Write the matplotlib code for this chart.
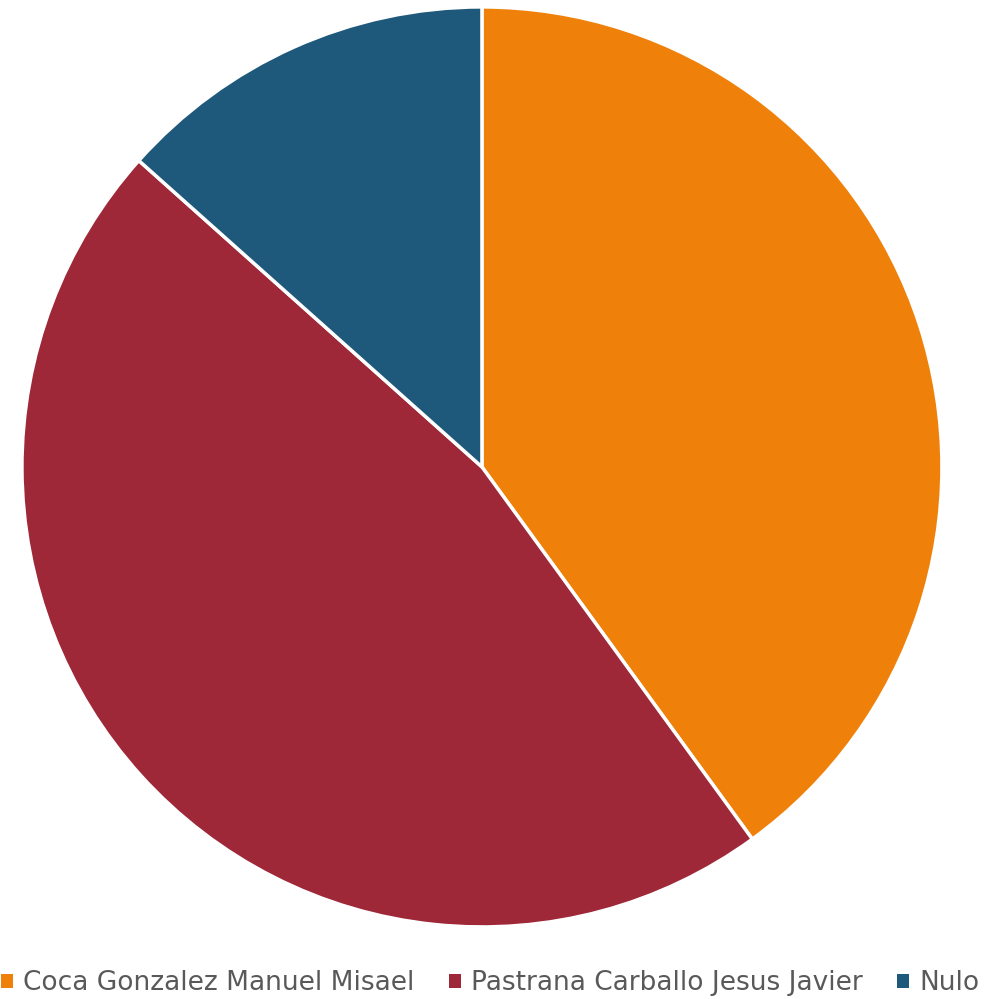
import matplotlib
matplotlib.use("Agg")
import matplotlib.pyplot as plt
from matplotlib.patches import Patch

labels = ["Coca Gonzalez Manuel Misael", "Pastrana Carballo Jesus Javier", "Nulo"]
shares = [40.0, 46.6, 13.4]
colors = ["#EF810B", "#9E2738", "#1E587B"]

fig = plt.figure(figsize=(10.07, 9.99), dpi=100)
ax = fig.add_axes([0.0218, 0.0721, 0.9136, 0.921])
ax.pie(shares, colors=colors, startangle=90, counterclock=False,
       wedgeprops=dict(edgecolor="white", linewidth=2.5))
ax.set_xlim(-1, 1)
ax.set_ylim(-1, 1)
ax.set_aspect("equal")

handles = [Patch(facecolor=c, edgecolor="none") for c in colors]
fig.legend(handles, labels, loc="center", bbox_to_anchor=(0.487, 0.016),
           ncol=3, frameon=False, handlelength=0.45, handleheight=0.45,
           handletextpad=0.4, columnspacing=1.3,
           prop=dict(family="DejaVu Sans", size=19), labelcolor="#595959")

fig.savefig("out.png", dpi=100, facecolor="white")
